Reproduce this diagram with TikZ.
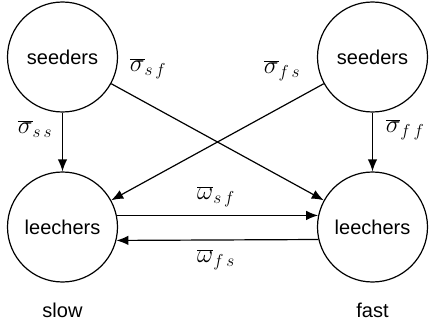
\documentclass[tikz,border=0pt]{standalone}
\usepackage{fontspec}
\setmainfont{Liberation Sans}
\usetikzlibrary{arrows.meta}
\begin{document}
\begin{tikzpicture}[x=1pt,y=-1pt,
  st/.style={circle,draw,line width=1.2pt,minimum size=110pt,inner sep=0pt,font=\fontsize{20}{24}\selectfont},
  arr/.style={line width=1.2pt,-{Latex[length=12pt,width=9.5pt]}},
  lab/.style={font=\fontsize{26}{30}\selectfont,inner sep=0pt},
  captext/.style={font=\fontsize{20}{24}\selectfont,inner sep=0pt}]
\useasboundingbox (0,0) rectangle (429,329);
\node[st] (ss) at (62.5,57) {seeders};
\node[st] (fs) at (372.5,57) {seeders};
\node[st] (sl) at (62.5,227) {leechers};
\node[st] (fl) at (372.5,227) {leechers};
\node[captext] (slow) at (62.5,310) {slow};
\node[captext] (fast) at (372.5,310) {fast};
\draw[arr] (ss) -- (sl);
\draw[arr] (fs) -- (fl);
\draw[arr] (ss) -- (fl);
\draw[arr] (fs) -- (sl);
\draw[arr] (sl.12) -- (fl.168);
\draw[arr] (fl.193.5) -- (sl.346.5);
\node[lab] (lsf) at (148,69) {$\overline{\sigma}_{s\,f}$};
\node[lab] (lss) at (35,129) {$\overline{\sigma}_{s\,s}$};
\node[lab] (lfs) at (282,71) {$\overline{\sigma}_{f\,s}$};
\node[lab] (lff) at (405,130) {$\overline{\sigma}_{f\,f}$};
\node[lab] (wsf) at (216,197) {$\overline{\omega}_{s\,f}$};
\node[lab] (wfs) at (216,260) {$\overline{\omega}_{f\,s}$};
\end{tikzpicture}
\end{document}
